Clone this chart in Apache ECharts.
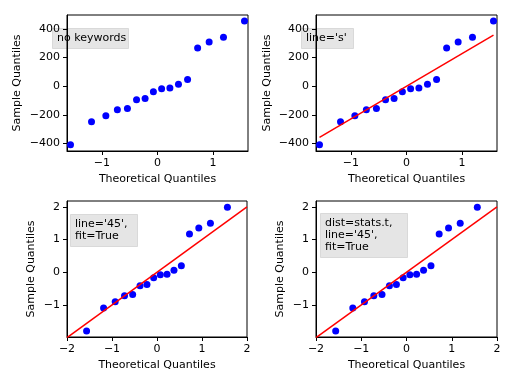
<!DOCTYPE html>
<html>
<head>
<meta charset="utf-8">
<script src="https://cdn.jsdelivr.net/npm/echarts@6/dist/echarts.min.js"></script>
<style>html,body{margin:0;padding:0;background:#fff}#c{width:512px;height:384px}</style>
</head>
<body>
<div id="c"></div>
<script>
// Theoretical normal quantiles for 16 observations
const theoretical = [-1.565, -1.187, -0.929, -0.722, -0.541, -0.377, -0.223, -0.074, 0.074, 0.223, 0.377, 0.541, 0.722, 0.929, 1.187, 1.565];
// Sorted sample quantiles (residuals)
const residuals = [-410.1, -249.3, -206.8, -164.1, -155.6, -94.0, -85.7, -39.1, -17.3, -13.2, 14.3, 46.3, 267.3, 309.7, 341.9, 455.4];
// Standardized sample quantiles (fit=True)
const standardized = [-1.794, -1.091, -0.905, -0.718, -0.681, -0.411, -0.375, -0.171, -0.076, -0.058, 0.063, 0.203, 1.169, 1.355, 1.496, 1.992];
// t-distribution theoretical quantiles (fit=True)
const theoreticalT = [-1.565, -1.187, -0.929, -0.722, -0.541, -0.377, -0.223, -0.074, 0.074, 0.223, 0.377, 0.541, 0.722, 0.929, 1.187, 1.565];
// 45-degree reference line end points
const line45 = [-2, 2];
// tick labels
const topXTicks = [-1, 0, 1];
const topYTicks = [-400, -200, 0, 200, 400];
const botXTicks = [-2, -1, 0, 1, 2];
const botYTicks = [-1, 0, 1, 2];
const labels = ["no keywords", "line='s'", "line='45',\nfit=True", "dist=stats.t,\nline='45',\nfit=True"];

const mean = residuals.reduce((a, b) => a + b, 0) / residuals.length;
const std = Math.sqrt(residuals.reduce((a, b) => a + (b - mean) * (b - mean), 0) / residuals.length);
const sLine = [[theoretical[0], theoretical[0] * std + mean], [theoretical[theoretical.length - 1], theoretical[theoretical.length - 1] * std + mean]];

const FONT = 'DejaVu Sans';
const fmt = v => String(v).replace('-', '\u2212');

function xAxis(gi, min, max, ticks) {
  return {
    type: 'value', gridIndex: gi, min: min, max: max,
    name: 'Theoretical Quantiles', nameLocation: 'middle', nameGap: 23,
    nameTextStyle: {color: '#000', fontSize: 11, fontFamily: FONT},
    axisLine: {show: true, onZero: false, lineStyle: {color: '#000', width: 1}},
    axisTick: {show: true, length: 4, inside: false, customValues: ticks, lineStyle: {color: '#000'}},
    axisLabel: {show: true, margin: 7, customValues: ticks, formatter: fmt, color: '#000', fontSize: 11, fontFamily: FONT},
    splitLine: {show: false}
  };
}
function yAxis(gi, min, max, ticks, gap) {
  return {
    type: 'value', gridIndex: gi, min: min, max: max,
    name: 'Sample Quantiles', nameLocation: 'middle', nameGap: gap,
    nameTextStyle: {color: '#000', fontSize: 11, fontFamily: FONT},
    axisLine: {show: true, onZero: false, lineStyle: {color: '#000', width: 1}},
    axisTick: {show: true, length: 4, inside: false, customValues: ticks, lineStyle: {color: '#000'}},
    axisLabel: {show: true, margin: 7, customValues: ticks, formatter: fmt, color: '#000', fontSize: 11, fontFamily: FONT},
    splitLine: {show: false}
  };
}
const gridStyle = {show: true, borderColor: '#000', borderWidth: 1, backgroundColor: 'transparent'};

function scatter(gi, xs, ys) {
  return {type: 'scatter', xAxisIndex: gi, yAxisIndex: gi, data: xs.map((x, i) => [x, ys[i]]),
    symbol: 'circle', symbolSize: 7, itemStyle: {color: '#0000ff', opacity: 1}, z: 2, silent: true};
}
function refLine(gi, pts) {
  return {type: 'line', xAxisIndex: gi, yAxisIndex: gi, data: pts, showSymbol: false, symbol: 'none',
    lineStyle: {color: '#ff0000', width: 1.5}, z: 3, clip: true, silent: true};
}

function box(x, y, w, h, text) {
  return {
    type: 'group', left: x, top: y, z: 1,
    children: [
      {type: 'rect', shape: {x: 0, y: 0, width: w, height: h}, style: {fill: 'rgba(0,0,0,0.1)', stroke: 'rgba(0,0,0,0.1)', lineWidth: 1}},
      {type: 'text', x: 4.5, y: 4, style: {text: text, fill: '#000', font: '11px "DejaVu Sans"', lineHeight: 12, textVerticalAlign: 'top'}}
    ]
  };
}

const chart = echarts.init(document.getElementById('c'), null, {renderer: 'canvas'});
chart.setOption({
  animation: false,
  backgroundColor: '#fff',
  grid: [
    Object.assign({left: 67, top: 15, width: 181, height: 136}, gridStyle),
    Object.assign({left: 316, top: 15, width: 181, height: 136}, gridStyle),
    Object.assign({left: 67, top: 201, width: 180, height: 136}, gridStyle),
    Object.assign({left: 316, top: 201, width: 181, height: 136}, gridStyle)
  ],
  xAxis: [
    xAxis(0, -1.628, 1.628, topXTicks),
    xAxis(1, -1.628, 1.628, topXTicks),
    xAxis(2, line45[0], line45[1], botXTicks),
    xAxis(3, line45[0], line45[1], botXTicks)
  ],
  yAxis: [
    yAxis(0, -453, 498, topYTicks, 44),
    yAxis(1, -453, 498, topYTicks, 43),
    yAxis(2, -1.98, 2.18, botYTicks, 30),
    yAxis(3, -1.98, 2.18, botYTicks, 30)
  ],
  series: [
    scatter(0, theoretical, residuals),
    scatter(1, theoretical, residuals),
    refLine(1, sLine),
    scatter(2, theoretical, standardized),
    refLine(2, [[line45[0], line45[0]], [line45[1], line45[1]]]),
    scatter(3, theoreticalT, standardized),
    refLine(3, [[line45[0], line45[0]], [line45[1], line45[1]]])
  ],
  graphic: [
    box(52, 28, 76, 20, labels[0]),
    box(301, 28, 52, 20, labels[1]),
    box(70, 214, 67, 32, labels[2]),
    box(320, 213, 87, 44, labels[3])
  ]
});
</script>
</body>
</html>
